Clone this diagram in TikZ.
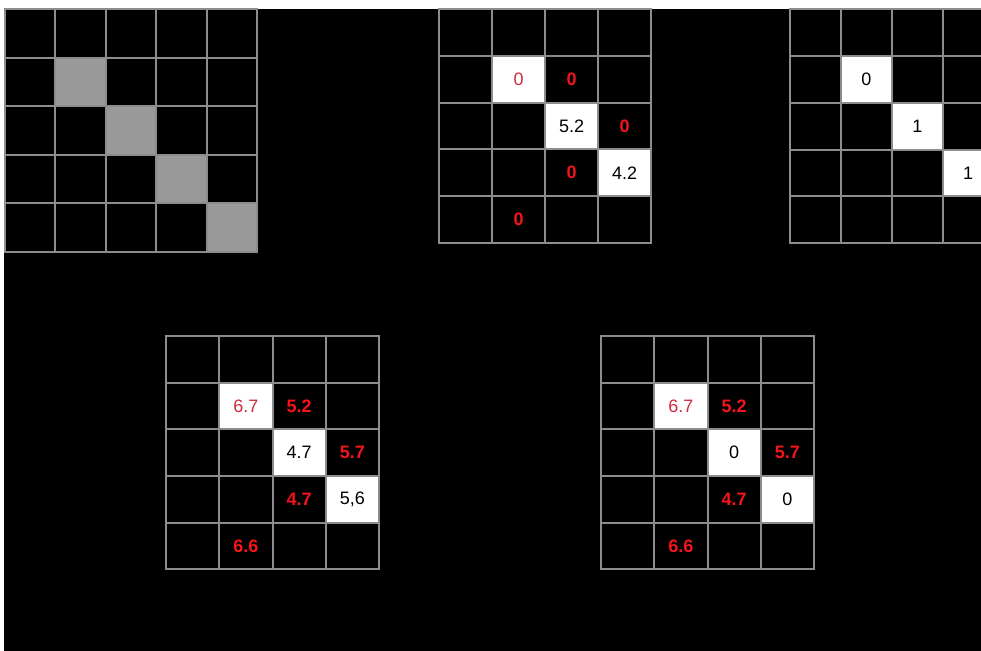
\documentclass[tikz,border=0pt]{standalone}
\usepackage{fontspec}
\setmainfont{Liberation Sans}
\definecolor{gridline}{RGB}{140,140,140}
\definecolor{greycell}{RGB}{153,153,153}
\definecolor{softred}{RGB}{205,45,60}
\definecolor{brightred}{RGB}{245,20,25}
\tikzset{
  cell/.style={draw=gridline, line width=2pt, fill=black, inner sep=0pt, outer sep=0pt, font=\fontsize{18}{18}\selectfont},
  whitecell/.style={fill=white, text=black},
  greyfill/.style={fill=greycell},
  redsoft/.style={text=softred},
  redbold/.style={text=brightred, font=\fontsize{18}{18}\selectfont\bfseries},
}
% \cellgrid{name}{x0}{y0}{w}{h}{cols}{rows}
\newcommand\cellgrid[7]{%
  \foreach \r in {1,...,#7}{%
    \foreach \c in {1,...,#6}{%
      \node[cell, minimum width=#4pt, minimum height=#5pt]
        (#1-\r-\c) at ({#2+(\c-0.5)*#4},{#3+(\r-0.5)*#5}) {};
    }%
  }%
}
% \mycell{name}{x0}{y0}{w}{h}{row}{col}{style}{text}
\newcommand\mycell[9]{%
  \node[cell, minimum width=#4pt, minimum height=#5pt, #8]
    (#1-#6-#7-t) at ({#2+(#7-0.5)*#4},{#3+(#6-0.5)*#5}) {#9};
}
\begin{document}
\begin{tikzpicture}[x=1pt,y=-1pt]
\useasboundingbox (0,0) rectangle (981,650);
\clip (0,0) rectangle (981,650);
\fill[white] (0,0) rectangle (981,650);
\fill[black] (4,9) rectangle (990,660);

% grid A (top left)
\cellgrid{A}{5}{9}{50.46}{48.54}{5}{5}
\mycell{A}{5}{9}{50.46}{48.54}{2}{2}{greyfill}{}
\mycell{A}{5}{9}{50.46}{48.54}{3}{3}{greyfill}{}
\mycell{A}{5}{9}{50.46}{48.54}{4}{4}{greyfill}{}
\mycell{A}{5}{9}{50.46}{48.54}{5}{5}{greyfill}{}

% grid B (top middle)
\cellgrid{B}{439.3}{9}{52.93}{46.8}{4}{5}
\mycell{B}{439.3}{9}{52.93}{46.8}{2}{2}{whitecell,redsoft}{0}
\mycell{B}{439.3}{9}{52.93}{46.8}{2}{3}{redbold}{0}
\mycell{B}{439.3}{9}{52.93}{46.8}{3}{3}{whitecell}{5.2}
\mycell{B}{439.3}{9}{52.93}{46.8}{3}{4}{redbold}{0}
\mycell{B}{439.3}{9}{52.93}{46.8}{4}{3}{redbold}{0}
\mycell{B}{439.3}{9}{52.93}{46.8}{4}{4}{whitecell}{4.2}
\mycell{B}{439.3}{9}{52.93}{46.8}{5}{2}{redbold}{0}

% grid C (top right, cut off)
\cellgrid{C}{790}{9}{50.9}{46.86}{4}{5}
\mycell{C}{790}{9}{50.9}{46.86}{2}{2}{whitecell}{0}
\mycell{C}{790}{9}{50.9}{46.86}{3}{3}{whitecell}{1}
\mycell{C}{790}{9}{50.9}{46.86}{4}{4}{whitecell}{1}

% grid D (bottom left)
\cellgrid{D}{166}{336}{53.25}{46.66}{4}{5}
\mycell{D}{166}{336}{53.25}{46.66}{2}{2}{whitecell,redsoft}{6.7}
\mycell{D}{166}{336}{53.25}{46.66}{2}{3}{redbold}{5.2}
\mycell{D}{166}{336}{53.25}{46.66}{3}{3}{whitecell}{4.7}
\mycell{D}{166}{336}{53.25}{46.66}{3}{4}{redbold}{5.7}
\mycell{D}{166}{336}{53.25}{46.66}{4}{3}{redbold}{4.7}
\mycell{D}{166}{336}{53.25}{46.66}{4}{4}{whitecell}{5,6}
\mycell{D}{166}{336}{53.25}{46.66}{5}{2}{redbold}{6.6}

% grid E (bottom right)
\cellgrid{E}{601}{336}{53.25}{46.66}{4}{5}
\mycell{E}{601}{336}{53.25}{46.66}{2}{2}{whitecell,redsoft}{6.7}
\mycell{E}{601}{336}{53.25}{46.66}{2}{3}{redbold}{5.2}
\mycell{E}{601}{336}{53.25}{46.66}{3}{3}{whitecell}{0}
\mycell{E}{601}{336}{53.25}{46.66}{3}{4}{redbold}{5.7}
\mycell{E}{601}{336}{53.25}{46.66}{4}{3}{redbold}{4.7}
\mycell{E}{601}{336}{53.25}{46.66}{4}{4}{whitecell}{0}
\mycell{E}{601}{336}{53.25}{46.66}{5}{2}{redbold}{6.6}
\end{tikzpicture}
\end{document}
